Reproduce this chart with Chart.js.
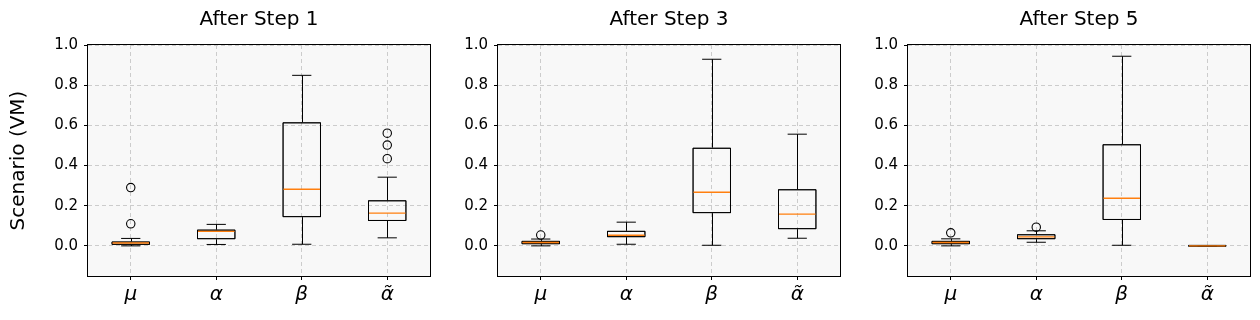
<!DOCTYPE html>
<html><head><meta charset="utf-8">
<script src="https://cdn.jsdelivr.net/npm/chart.js@4.4.1/dist/chart.umd.min.js"></script>
<style>
html,body{margin:0;padding:0;background:#fff;width:1260px;height:320px;overflow:hidden}
.p{position:absolute;top:0;height:320px}
</style></head><body>
<div class="p" style="left:0;width:440px"><canvas id="c0"></canvas></div>
<div class="p" style="left:440px;width:410px"><canvas id="c1"></canvas></div>
<div class="p" style="left:850px;width:410px"><canvas id="c2"></canvas></div>
<script>
const categories = ['μ', 'α', 'β', 'α̃'];
const panelTitles = ['After Step 1', 'After Step 3', 'After Step 5'];
const yTicks = [0.0, 0.2, 0.4, 0.6, 0.8, 1.0];
const yLabel = 'Scenario (VM)';

// After Step 1
const step1Min    = [0.000, 0.007, 0.008, 0.040];
const step1Q1     = [0.005, 0.033, 0.143, 0.124];
const step1Median = [0.014, 0.072, 0.282, 0.163];
const step1Q3     = [0.022, 0.081, 0.615, 0.227];
const step1Max    = [0.037, 0.107, 0.849, 0.342];
const step1Fliers = [{x: 'μ', y: 0.290}, {x: 'μ', y: 0.110}, {x: 'α̃', y: 0.561}, {x: 'α̃', y: 0.502}, {x: 'α̃', y: 0.434}];

// After Step 3
const step3Min    = [0.000, 0.008, 0.003, 0.038];
const step3Q1     = [0.008, 0.043, 0.163, 0.083];
const step3Median = [0.017, 0.053, 0.267, 0.158];
const step3Q3     = [0.025, 0.075, 0.489, 0.282];
const step3Max    = [0.034, 0.118, 0.929, 0.556];
const step3Fliers = [{x: 'μ', y: 0.054}];

// After Step 5
const step5Min    = [0.000, 0.018, 0.003, 0.000];
const step5Q1     = [0.008, 0.033, 0.129, 0.000];
const step5Median = [0.017, 0.045, 0.237, 0.000];
const step5Q3     = [0.025, 0.058, 0.506, 0.000];
const step5Max    = [0.035, 0.075, 0.944, 0.000];
const step5Fliers = [{x: 'μ', y: 0.065}, {x: 'α', y: 0.093}];

const panels = [
  {min: step1Min, q1: step1Q1, med: step1Median, q3: step1Q3, max: step1Max, fliers: step1Fliers},
  {min: step3Min, q1: step3Q1, med: step3Median, q3: step3Q3, max: step3Max, fliers: step3Fliers},
  {min: step5Min, q1: step5Q1, med: step5Median, q3: step5Q3, max: step5Max, fliers: step5Fliers}
];

const FONT = "'DejaVu Sans', sans-serif";
const px = v => Math.round(v) + 0.5;

const boxExtras = {
  id: 'boxExtras',
  beforeDraw(chart) {
    const a = chart.chartArea, ctx = chart.ctx;
    ctx.save();
    ctx.fillStyle = '#f8f8f8';
    ctx.fillRect(a.left, a.top, a.right - a.left, a.bottom - a.top);
    ctx.restore();
  },
  afterDatasetsDraw(chart, args, opts) {
    const st = opts.stats;
    const ctx = chart.ctx, y = chart.scales.y;
    const meta = chart.getDatasetMeta(0);
    ctx.save();
    ctx.lineWidth = 1;
    ctx.strokeStyle = '#000';
    meta.data.forEach((bar, i) => {
      const cx = px(bar.x);
      const half = bar.width / 2;
      const capHalf = half / 2;
      const left = bar.x - half;
      const top = Math.min(bar.y, bar.base), bottom = Math.max(bar.y, bar.base);
      const yMax = y.getPixelForValue(st.max[i]);
      const yMin = y.getPixelForValue(st.min[i]);
      ctx.beginPath();
      ctx.moveTo(cx, top); ctx.lineTo(cx, yMax);
      ctx.moveTo(cx, bottom); ctx.lineTo(cx, yMin);
      ctx.moveTo(bar.x - capHalf, yMax); ctx.lineTo(bar.x + capHalf, yMax);
      ctx.moveTo(bar.x - capHalf, yMin); ctx.lineTo(bar.x + capHalf, yMin);
      ctx.stroke();
      ctx.beginPath();
      if (bottom - top >= 1) {
        ctx.rect(left + 0.5, top + 0.5, bar.width - 1, bottom - top - 1);
      } else {
        ctx.rect(left + 0.5, top - 0.5, bar.width - 1, 1);
      }
      ctx.stroke();
      const ym = y.getPixelForValue(st.med[i]);
      ctx.beginPath();
      ctx.strokeStyle = '#ff7f0e';
      ctx.lineWidth = 1.4;
      ctx.moveTo(left + 1, ym);
      ctx.lineTo(left + bar.width - 1, ym);
      ctx.stroke();
      ctx.strokeStyle = '#000';
      ctx.lineWidth = 1;
    });
    ctx.restore();
  },
  afterDraw(chart, args, opts) {
    const a = chart.chartArea, ctx = chart.ctx;
    ctx.save();
    ctx.strokeStyle = '#000';
    ctx.lineWidth = 1;
    ctx.strokeRect(px(a.left) - 1, px(a.top) - 1, Math.round(a.right - a.left) + 1, Math.round(a.bottom - a.top) + 1);
    ctx.fillStyle = '#000';
    ctx.font = '20px ' + FONT;
    ctx.textAlign = 'center';
    ctx.textBaseline = 'middle';
    ctx.fillText(opts.title, (a.left + a.right) / 2, 20);
    ctx.restore();
  }
};

panels.forEach((p, idx) => {
  const gridCommon = {
    display: true, color: '#cccccc', lineWidth: 1,
    drawTicks: true, tickLength: 4, tickColor: '#000', tickWidth: 1
  };
  new Chart(document.getElementById('c' + idx), {
    type: 'bar',
    data: {
      labels: categories,
      datasets: [
        {
          type: 'bar',
          data: p.q1.map((v, i) => [v, p.q3[i]]),
          backgroundColor: 'rgba(0,0,0,0)',
          borderColor: '#000',
          borderWidth: 1,
          borderSkipped: false,
          barPercentage: 0.45,
          categoryPercentage: 1.0,
          order: 2
        },
        {
          type: 'line',
          data: p.fliers,
          showLine: false,
          pointRadius: 4.2,
          pointStyle: 'circle',
          pointBorderColor: '#000',
          pointBackgroundColor: 'rgba(0,0,0,0)',
          pointBorderWidth: 1.1,
          order: 1
        }
      ]
    },
    options: {
      responsive: true,
      maintainAspectRatio: false,
      animation: false,
      layout: {padding: {top: 45, right: 10, left: 0, bottom: 0}},
      plugins: {
        legend: {display: false},
        tooltip: {enabled: false},
        title: {display: false},
        boxExtras: {stats: p, title: panelTitles[idx]}
      },
      scales: {
        x: {
          type: 'category',
          offset: true,
          grid: Object.assign({offset: false}, gridCommon),
          border: {display: false, dash: [4, 3]},
          ticks: {font: {family: FONT, size: 20, style: 'italic'}, color: '#000', padding: 3, maxRotation: 0},
          afterFit(s) { s.height = 44; }
        },
        y: {
          type: 'linear',
          min: -0.15,
          max: 1.0,
          afterBuildTicks(s) { s.ticks = yTicks.map(v => ({value: v})); },
          grid: gridCommon,
          border: {display: false, dash: [4, 3]},
          ticks: {font: {family: FONT, size: 15}, color: '#000', padding: 6, callback: v => Number(v).toFixed(1)},
          title: {display: idx === 0, text: yLabel, font: {family: FONT, size: 20}, color: '#000', padding: {top: 7, bottom: 0}},
          afterFit(s) { s.width = idx === 0 ? 88 : 58; }
        }
      }
    },
    plugins: [boxExtras]
  });
});
</script>
</body></html>
